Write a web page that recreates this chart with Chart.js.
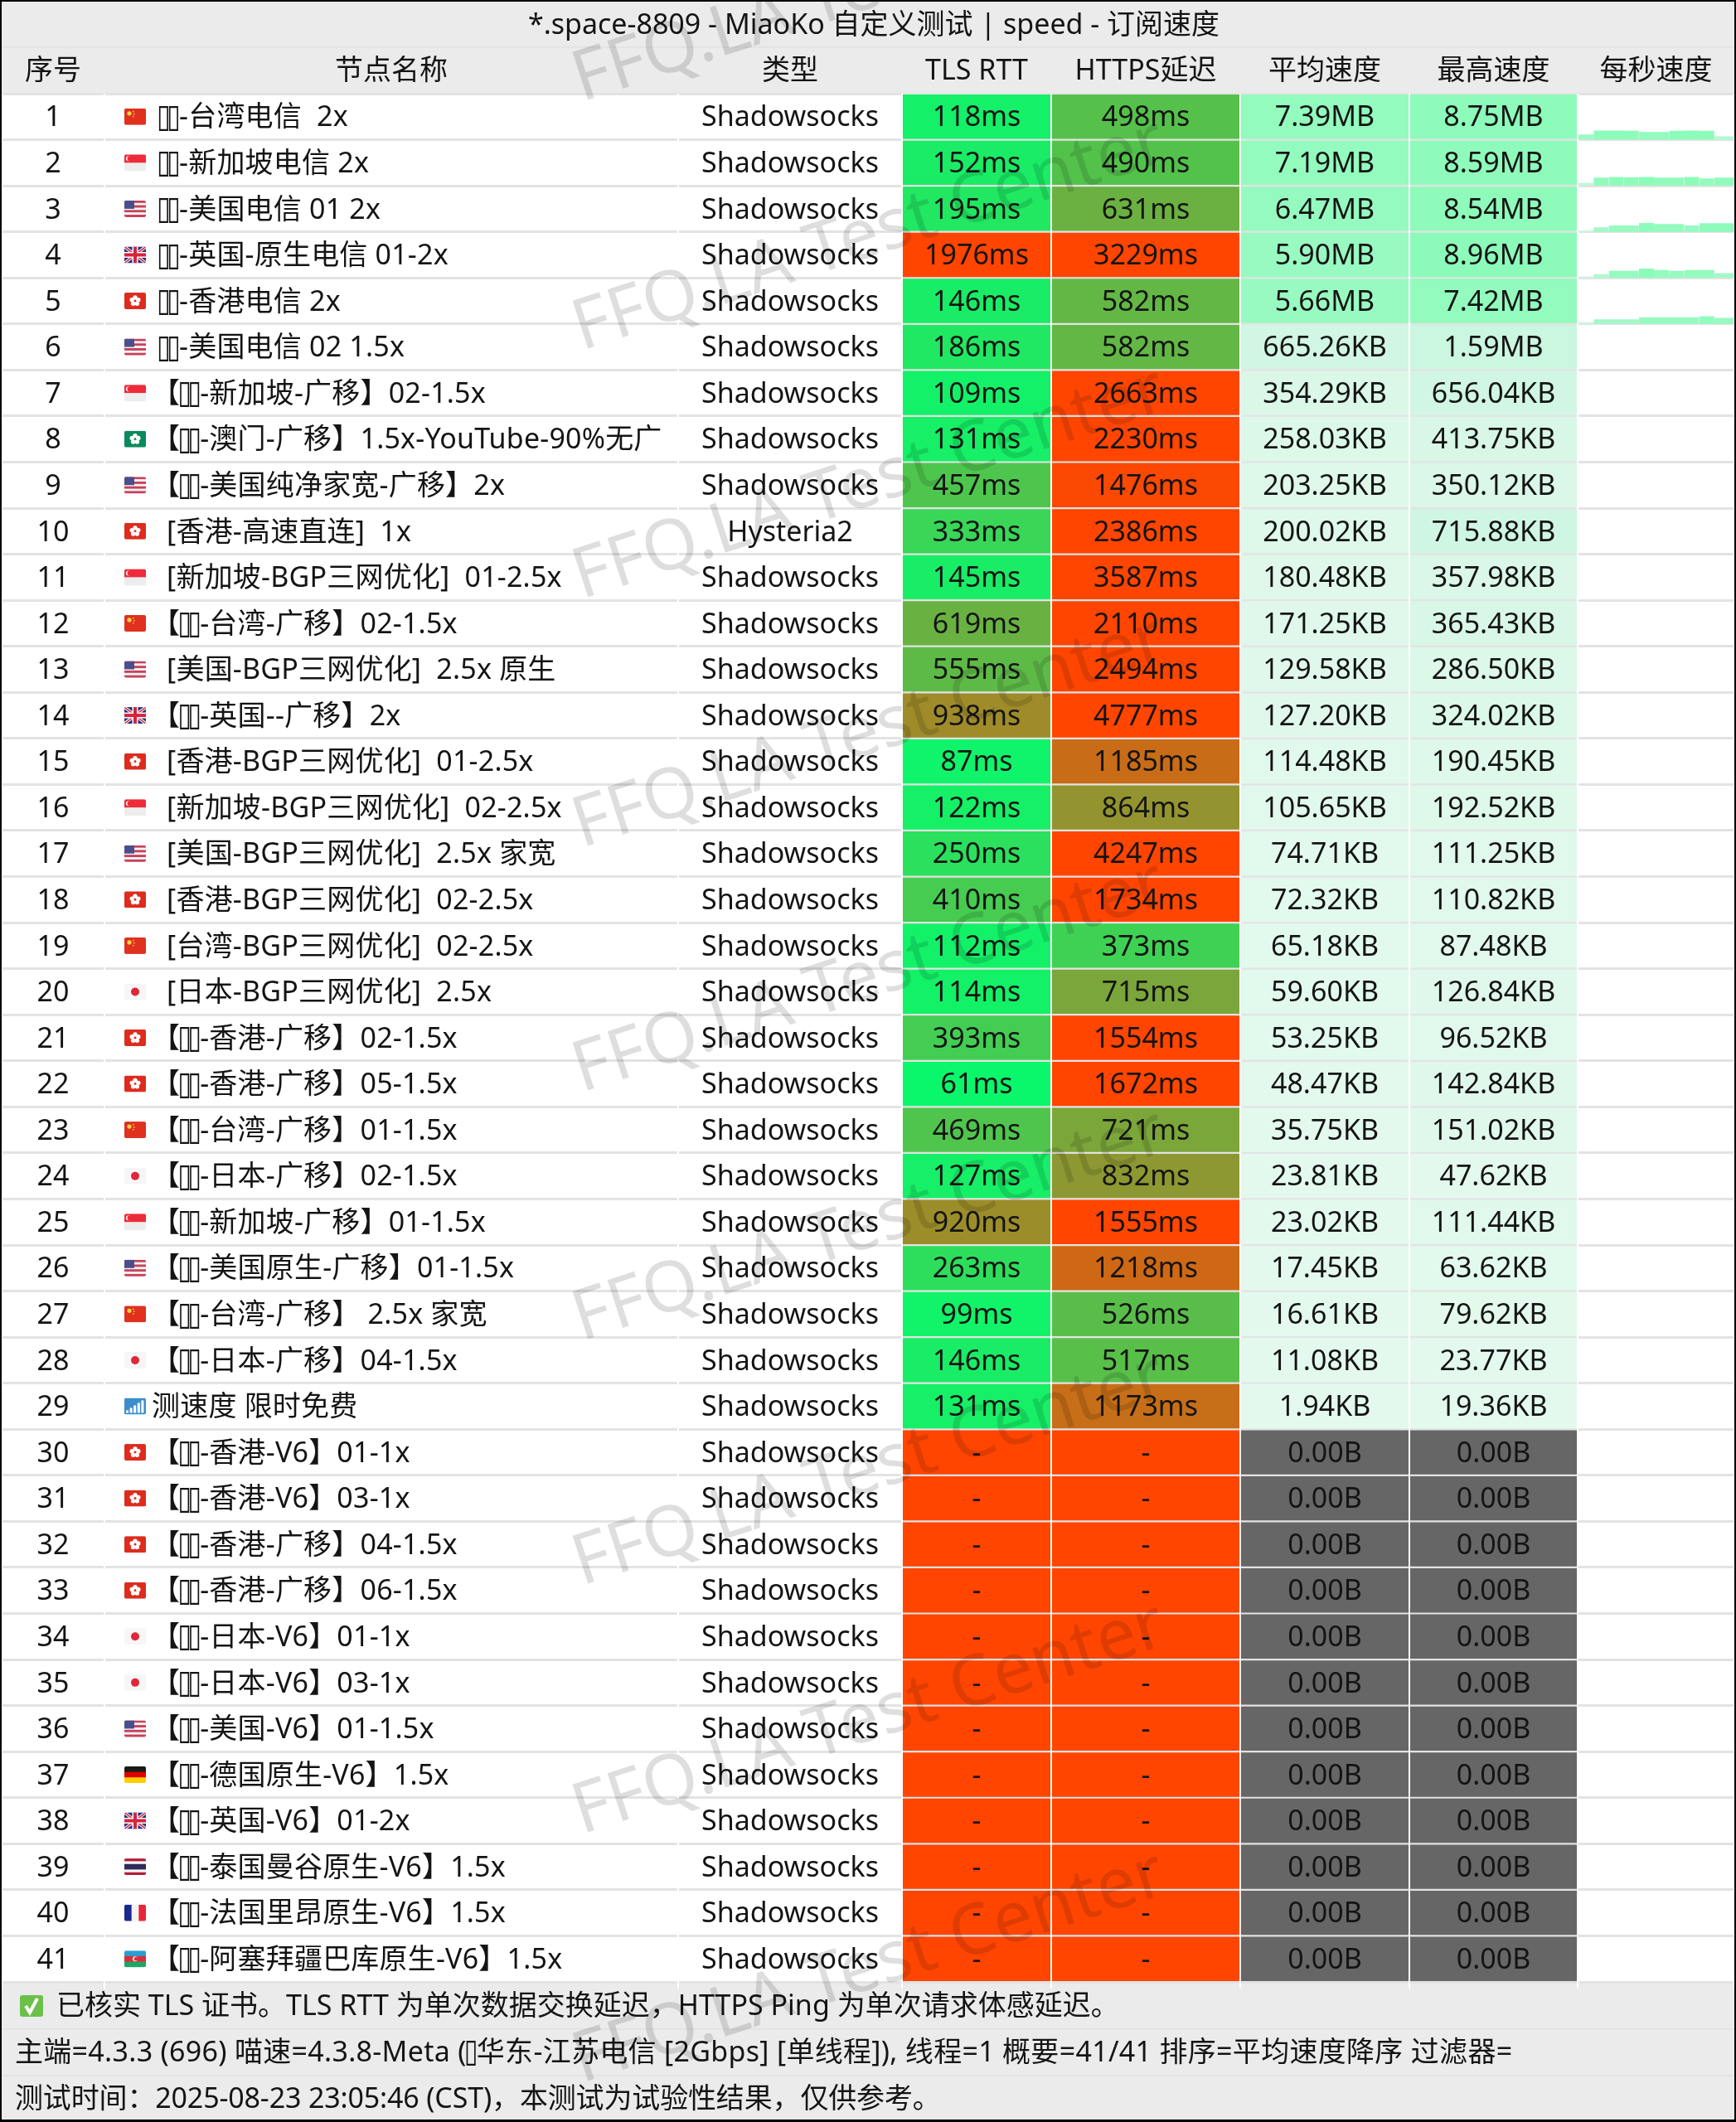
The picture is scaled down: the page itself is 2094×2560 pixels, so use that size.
<!DOCTYPE html>
<html>
<head>
<meta charset="utf-8">
<style>
  html, body { margin: 0; padding: 0; background: #fff; }
  canvas { display: block; }
</style>
<script src="https://cdn.jsdelivr.net/npm/chart.js@4"></script>
</head>
<body>
<canvas id="speedChart" width="2094" height="2560"></canvas>
<script>
const rowIds = ['1','2','3','4','5','6','7','8','9','10','11','12','13','14','15','16','17','18','19','20','21','22','23','24','25','26','27','28','29','30','31','32','33','34','35','36','37','38','39','40','41'];

const flags = ['cn','sg','us','gb','hk','us','sg','mo','us','hk','sg','cn','us','gb','hk','sg','us','hk','cn','jp','hk','hk','cn','jp','sg','us','cn','jp','signal','hk','hk','hk','hk','jp','jp','us','de','gb','th','fr','az'];

const nodeNames = [
  ' ▯▯-台湾电信  2x', ' ▯▯-新加坡电信 2x', ' ▯▯-美国电信 01 2x', ' ▯▯-英国-原生电信 01-2x', ' ▯▯-香港电信 2x',
  ' ▯▯-美国电信 02 1.5x', '【▯▯-新加坡-广移】02-1.5x', '【▯▯-澳门-广移】1.5x-YouTube-90%无广', '【▯▯-美国纯净家宽-广移】2x',
  '  [香港-高速直连]  1x', '  [新加坡-BGP三网优化]  01-2.5x', '【▯▯-台湾-广移】02-1.5x', '  [美国-BGP三网优化]  2.5x 原生',
  '【▯▯-英国--广移】2x', '  [香港-BGP三网优化]  01-2.5x', '  [新加坡-BGP三网优化]  02-2.5x', '  [美国-BGP三网优化]  2.5x 家宽',
  '  [香港-BGP三网优化]  02-2.5x', '  [台湾-BGP三网优化]  02-2.5x', '  [日本-BGP三网优化]  2.5x', '【▯▯-香港-广移】02-1.5x',
  '【▯▯-香港-广移】05-1.5x', '【▯▯-台湾-广移】01-1.5x', '【▯▯-日本-广移】02-1.5x', '【▯▯-新加坡-广移】01-1.5x',
  '【▯▯-美国原生-广移】01-1.5x', '【▯▯-台湾-广移】 2.5x 家宽', '【▯▯-日本-广移】04-1.5x', '测速度 限时免费',
  '【▯▯-香港-V6】01-1x', '【▯▯-香港-V6】03-1x', '【▯▯-香港-广移】04-1.5x', '【▯▯-香港-广移】06-1.5x',
  '【▯▯-日本-V6】01-1x', '【▯▯-日本-V6】03-1x', '【▯▯-美国-V6】01-1.5x', '【▯▯-德国原生-V6】1.5x', '【▯▯-英国-V6】01-2x',
  '【▯▯-泰国曼谷原生-V6】1.5x', '【▯▯-法国里昂原生-V6】1.5x', '【▯▯-阿塞拜疆巴库原生-V6】1.5x'
];

const nodeTypes = ['Shadowsocks','Shadowsocks','Shadowsocks','Shadowsocks','Shadowsocks','Shadowsocks','Shadowsocks','Shadowsocks','Shadowsocks','Hysteria2','Shadowsocks','Shadowsocks','Shadowsocks','Shadowsocks','Shadowsocks','Shadowsocks','Shadowsocks','Shadowsocks','Shadowsocks','Shadowsocks','Shadowsocks','Shadowsocks','Shadowsocks','Shadowsocks','Shadowsocks','Shadowsocks','Shadowsocks','Shadowsocks','Shadowsocks','Shadowsocks','Shadowsocks','Shadowsocks','Shadowsocks','Shadowsocks','Shadowsocks','Shadowsocks','Shadowsocks','Shadowsocks','Shadowsocks','Shadowsocks','Shadowsocks'];

const tlsRtt = [118,152,195,1976,146,186,109,131,457,333,145,619,555,938,87,122,250,410,112,114,393,61,469,127,920,263,99,146,131,null,null,null,null,null,null,null,null,null,null,null,null];
const httpsDelay = [498,490,631,3229,582,582,2663,2230,1476,2386,3587,2110,2494,4777,1185,864,4247,1734,373,715,1554,1672,721,832,1555,1218,526,517,1173,null,null,null,null,null,null,null,null,null,null,null,null];

const avgSpeed = ['7.39MB','7.19MB','6.47MB','5.90MB','5.66MB','665.26KB','354.29KB','258.03KB','203.25KB','200.02KB','180.48KB','171.25KB','129.58KB','127.20KB','114.48KB','105.65KB','74.71KB','72.32KB','65.18KB','59.60KB','53.25KB','48.47KB','35.75KB','23.81KB','23.02KB','17.45KB','16.61KB','11.08KB','1.94KB','0.00B','0.00B','0.00B','0.00B','0.00B','0.00B','0.00B','0.00B','0.00B','0.00B','0.00B','0.00B'];
const maxSpeed = ['8.75MB','8.59MB','8.54MB','8.96MB','7.42MB','1.59MB','656.04KB','413.75KB','350.12KB','715.88KB','357.98KB','365.43KB','286.50KB','324.02KB','190.45KB','192.52KB','111.25KB','110.82KB','87.48KB','126.84KB','96.52KB','142.84KB','151.02KB','47.62KB','111.44KB','63.62KB','79.62KB','23.77KB','19.36KB','0.00B','0.00B','0.00B','0.00B','0.00B','0.00B','0.00B','0.00B','0.00B','0.00B','0.00B','0.00B'];

// per second speed in MB, only the first five rows have a visible curve
const perSecond = [
  [5.0,8.75,8.75,8.7,7.5,7.5,8.7,8.75,8.7,3.3,3.3],
  [2.6,7.8,8.59,8.2,8.59,7.8,7.8,8.59,7.0,7.8,7.8],
  [1.4,4.4,6.1,6.1,8.54,7.5,7.5,6.1,8.4,8.4,8.4],
  [1.3,3.5,6.7,6.7,8.96,7.5,6.7,7.5,7.5,4.5,4.5],
  [1.6,4.5,4.5,4.5,6.4,6.4,6.4,6.4,7.42,5.8,5.8]
];

const headers = ['序号','节点名称','类型','TLS RTT','HTTPS延迟','平均速度','最高速度','每秒速度'];
const titleText = '*.space-8809 - MiaoKo 自定义测试 | speed - 订阅速度';
const footerLines = [
  '已核实 TLS 证书。TLS RTT 为单次数据交换延迟，HTTPS Ping 为单次请求体感延迟。',
  '主端=4.3.3 (696) 喵速=4.3.8-Meta (▯华东-江苏电信 [2Gbps] [单线程]), 线程=1 概要=41/41 排序=平均速度降序 过滤器=',
  '测试时间：2025-08-23 23:05:46 (CST)，本测试为试验性结果，仅供参考。'
];
const watermark = 'FFQ.LA Test Center';

// layout of the picture
const colEdges = [2, 126, 818, 1088, 1268, 1496, 1700, 1903, 2092];
const tableTop = 113, tableBottom = 2391;
const rowH = (tableBottom - tableTop) / rowIds.length;
const sparkLeft = 1904, sparkStep = 18.2, sparkPxPerMB = 1.25;

const font = '34px "Noto Sans", "Noto Sans CJK SC", sans-serif';
const ink = '#141414';

function mix(a, b, t) {
  return a.map((v, i) => Math.round(v + (b[i] - v) * t));
}
function rgb(c) { return 'rgb(' + c.join(',') + ')'; }

function delayColor(ms) {
  if (ms === null) return '#ff4500';
  return rgb(mix([0, 255, 112], [255, 69, 0], Math.min(ms / 1500, 1)));
}

function toMB(text) {
  const n = parseFloat(text);
  if (text.endsWith('MB')) return n;
  if (text.endsWith('KB')) return n / 1024;
  return 0;
}

const speedStops = [[0,[228,249,238]],[0.2,[222,248,234]],[0.7,[207,246,226]],[1.6,[203,246,224]],[5,[155,250,195]],[9,[140,251,185]]];
function speedColor(mb) {
  for (let i = 1; i < speedStops.length; i++) {
    if (mb <= speedStops[i][0]) {
      const [a, ca] = speedStops[i - 1], [b, cb] = speedStops[i];
      return rgb(mix(ca, cb, (mb - a) / (b - a)));
    }
  }
  return rgb(speedStops[speedStops.length - 1][1]);
}
function speedCell(text) {
  return text === '0.00B' ? '#666666' : speedColor(toMB(text));
}

// the missing-glyph boxes are narrower than the real glyph, so step them by hand
function drawText(ctx, text, x, y, spacing) {
  ctx.letterSpacing = (spacing || 0) + 'px';
  const parts = text.split('▯');
  parts.forEach((part, i) => {
    ctx.font = font;
    ctx.fillText(part, x, y);
    x += ctx.measureText(part).width;
    if (i < parts.length - 1) {
      ctx.save();
      ctx.translate(x - 3, y);
      ctx.scale(1, 1.3);
      ctx.font = '30px "DejaVu Sans"';
      ctx.fillText('▯', 0, 0);
      ctx.restore();
      x += 12;
    }
  });
  ctx.letterSpacing = '0px';
}

function stripes(ctx, x, y, w, h, colors) {
  const sh = h / colors.length;
  colors.forEach((c, i) => { ctx.fillStyle = c; ctx.fillRect(x, y + i * sh, w, sh + 0.5); });
}

function drawFlag(ctx, code, cx, cy) {
  const w = 26, h = 20, x = cx - w / 2, y = cy - h / 2;
  ctx.save();
  ctx.beginPath();
  ctx.roundRect(x, y, w, h, 2);
  ctx.clip();
  if (code === 'cn') {
    ctx.fillStyle = '#e0301e'; ctx.fillRect(x, y, w, h);
    ctx.fillStyle = '#f7d34a';
    ctx.beginPath(); ctx.arc(x + 6, y + 6, 2.6, 0, 7); ctx.fill();
    ctx.fillRect(x + 10, y + 3, 1.5, 1.5); ctx.fillRect(x + 11, y + 6, 1.5, 1.5); ctx.fillRect(x + 10, y + 9, 1.5, 1.5);
  } else if (code === 'sg') {
    stripes(ctx, x, y, w, h, ['#ee2b3a', '#ededed']);
    ctx.fillStyle = '#fff';
    ctx.beginPath(); ctx.arc(x + 5, y + 5, 3, 0, 7); ctx.fill();
    ctx.fillStyle = '#ee2b3a';
    ctx.beginPath(); ctx.arc(x + 6.5, y + 5, 3, 0, 7); ctx.fill();
  } else if (code === 'us') {
    stripes(ctx, x, y, w, h, ['#c8415a','#f3f3f3','#c8415a','#f3f3f3','#c8415a','#f3f3f3','#c8415a']);
    ctx.fillStyle = '#4a4f8c'; ctx.fillRect(x, y, 12, 10);
  } else if (code === 'gb') {
    ctx.fillStyle = '#27327f'; ctx.fillRect(x, y, w, h);
    ctx.strokeStyle = '#fff'; ctx.lineWidth = 3.5;
    ctx.beginPath(); ctx.moveTo(x, y); ctx.lineTo(x + w, y + h); ctx.moveTo(x + w, y); ctx.lineTo(x, y + h); ctx.stroke();
    ctx.strokeStyle = '#d5243c'; ctx.lineWidth = 1.5;
    ctx.stroke();
    ctx.fillStyle = '#fff'; ctx.fillRect(x + 9.5, y, 7, h); ctx.fillRect(x, y + 6.5, w, 7);
    ctx.fillStyle = '#d5243c'; ctx.fillRect(x + 11, y, 4, h); ctx.fillRect(x, y + 8, w, 4);
  } else if (code === 'hk' || code === 'mo') {
    ctx.fillStyle = code === 'hk' ? '#dd2c1e' : '#0b8a5c'; ctx.fillRect(x, y, w, h);
    ctx.fillStyle = '#fff';
    for (let i = 0; i < 5; i++) {
      const a = i * Math.PI * 2 / 5 - Math.PI / 2;
      ctx.beginPath(); ctx.arc(cx + Math.cos(a) * 4, cy + Math.sin(a) * 4, 2.7, 0, 7); ctx.fill();
    }
  } else if (code === 'jp') {
    ctx.fillStyle = '#f6f6f6'; ctx.fillRect(x, y, w, h);
    ctx.fillStyle = '#e0263a';
    ctx.beginPath(); ctx.arc(cx, cy, 5, 0, 7); ctx.fill();
  } else if (code === 'de') {
    stripes(ctx, x, y, w, h, ['#1a1a1a', '#dd0000', '#ffce00']);
  } else if (code === 'th') {
    stripes(ctx, x, y, w, h, ['#b0203a','#f3f3f3','#2d2a56','#2d2a56','#f3f3f3','#b0203a']);
  } else if (code === 'fr') {
    ctx.fillStyle = '#f3f3f3'; ctx.fillRect(x, y, w, h);
    ctx.fillStyle = '#1a2a8c'; ctx.fillRect(x, y, w / 3, h);
    ctx.fillStyle = '#e8263a'; ctx.fillRect(x + 2 * w / 3, y, w / 3, h);
  } else if (code === 'az') {
    stripes(ctx, x, y, w, h, ['#2b9fd0', '#dd2c3c', '#1fa565']);
    ctx.fillStyle = '#fff';
    ctx.beginPath(); ctx.arc(cx, cy, 3, 0, 7); ctx.fill();
    ctx.fillStyle = '#dd2c3c';
    ctx.beginPath(); ctx.arc(cx + 1, cy, 2.3, 0, 7); ctx.fill();
  } else if (code === 'signal') {
    ctx.fillStyle = '#3c8ecb'; ctx.fillRect(x, y, w, h);
    ctx.fillStyle = '#fff';
    [3, 6, 9, 12, 15].forEach((bh, i) => ctx.fillRect(x + 2 + i * 4.6, cy + 8 - bh, 3, bh));
  }
  ctx.restore();
}

function drawCheck(ctx) {
  ctx.save();
  ctx.fillStyle = '#6cc04a';
  ctx.beginPath(); ctx.roundRect(24, 2407, 28, 26, 3); ctx.fill();
  ctx.strokeStyle = '#fff'; ctx.lineWidth = 4;
  ctx.beginPath(); ctx.moveTo(31, 2420); ctx.lineTo(36, 2428); ctx.lineTo(45, 2411); ctx.stroke();
  ctx.restore();
}

const tablePlugin = {
  id: 'tablePlugin',
  beforeDraw(chart) {
    const ctx = chart.ctx;
    ctx.save();
    ctx.fillStyle = '#ffffff'; ctx.fillRect(0, 0, 2094, 2560);
    ctx.fillStyle = '#ebebeb';
    ctx.fillRect(0, 0, 2094, tableTop);
    ctx.fillRect(0, tableBottom, 2094, 2560 - tableBottom);
    ctx.fillStyle = '#e3e3e3';
    ctx.fillRect(0, 56, 2094, 2);
    ctx.fillRect(0, 2447, 2094, 2);
    ctx.fillRect(0, 2503, 2094, 2);
    ctx.restore();
  },
  afterDraw(chart) {
    const ctx = chart.ctx, yScale = chart.scales.y, xScale = chart.scales.x;
    const center = i => xScale.getPixelForValue((colEdges[i] + colEdges[i + 1]) / 2);
    ctx.save();
    ctx.fillStyle = ink;
    ctx.textBaseline = 'middle';
    ctx.font = font;

    ctx.textAlign = 'center';
    ctx.fillText(titleText, 1054, 31);
    headers.forEach((h, i) => ctx.fillText(h, center(i), 86));

    rowIds.forEach((id, r) => {
      const y = yScale.getPixelForValue(r);
      const ty = y + 2;
      ctx.textAlign = 'center';
      ctx.font = font;
      ctx.fillText(id, center(0), ty);
      ctx.fillText(nodeTypes[r], center(2), ty);
      ctx.fillText(tlsRtt[r] === null ? '-' : tlsRtt[r] + 'ms', center(3), ty);
      ctx.fillText(httpsDelay[r] === null ? '-' : httpsDelay[r] + 'ms', center(4), ty);
      ctx.fillText(avgSpeed[r], center(5), ty);
      ctx.fillText(maxSpeed[r], center(6), ty);
      ctx.textAlign = 'left';
      drawText(ctx, nodeNames[r], 183, ty, 0.2);
      drawFlag(ctx, flags[r], 163, y);
    });

    ctx.textAlign = 'left';
    drawCheck(ctx);
    drawText(ctx, footerLines[0], 68, 2421);
    drawText(ctx, footerLines[1], 18, 2477, 0.3);
    drawText(ctx, footerLines[2], 18, 2533, -0.15);

    // watermark sits over everything
    ctx.font = '85px "Noto Sans", sans-serif';
    ctx.fillStyle = 'rgba(0,0,0,0.13)';
    [100, 400, 700, 1000, 1295, 1595, 1890, 2190, 2490].forEach(wy => {
      ctx.save();
      ctx.translate(694, wy);
      ctx.rotate(-18 * Math.PI / 180);
      ctx.fillText(watermark, 0, 0);
      ctx.restore();
    });

    // black photo frame
    ctx.fillStyle = '#000';
    ctx.fillRect(0, 0, 2094, 2);
    ctx.fillRect(0, 2557, 2094, 3);
    ctx.fillRect(0, 0, 2, 2560);
    ctx.fillRect(2092, 0, 2, 2560);
    ctx.restore();
  }
};

const cellColumn = (label, col, colors) => ({
  type: 'bar',
  label,
  data: rowIds.map(() => [colEdges[col], colEdges[col + 1]]),
  backgroundColor: colors,
  grouped: false,
  barPercentage: 0.96,
  categoryPercentage: 1,
  xAxisID: 'x',
  yAxisID: 'y'
});

const sparkDatasets = perSecond.map((values, r) => ({
  type: 'line',
  indexAxis: 'x',
  label: 'spark' + r,
  data: values.concat(values[values.length - 1]).map((v, s) => ({ x: s, y: v })),
  xAxisID: 'xSpark',
  yAxisID: 'ySpark' + r,
  stepped: true,
  borderWidth: 0,
  pointRadius: 0,
  fill: { value: 0 },
  backgroundColor: speedColor(9),
  segment: { backgroundColor: c => speedColor(c.p0.parsed.y) }
}));

const scales = {
  x: {
    type: 'linear', min: 0, max: 2094,
    grid: { color: '#ffffff', lineWidth: 2, z: 1 },
    border: { display: false },
    ticks: { display: false },
    afterBuildTicks: s => { s.ticks = colEdges.map(value => ({ value })); },
    afterFit: s => { s.height = 0; }
  },
  y: {
    type: 'category',
    labels: rowIds,
    grid: { color: '#e3e3e3', lineWidth: 3, offset: true, drawTicks: false },
    border: { display: false },
    ticks: { display: false },
    afterFit: s => { s.width = 0; }
  },
  xSpark: { type: 'linear', axis: 'x', display: false, min: -sparkLeft / sparkStep, max: (2094 - sparkLeft) / sparkStep }
};
perSecond.forEach((v, r) => {
  // each row gets its own MB axis whose zero sits on that row's bottom line
  const base = (rowIds.length - r - 1) * rowH;
  scales['ySpark' + r] = {
    type: 'linear', axis: 'y', display: false,
    min: -base / sparkPxPerMB,
    max: (tableBottom - tableTop - base) / sparkPxPerMB
  };
});

new Chart(document.getElementById('speedChart'), {
  data: {
    labels: rowIds,
    datasets: [
      cellColumn('TLS RTT', 3, tlsRtt.map(delayColor)),
      cellColumn('HTTPS延迟', 4, httpsDelay.map(delayColor)),
      cellColumn('平均速度', 5, avgSpeed.map(speedCell)),
      cellColumn('最高速度', 6, maxSpeed.map(speedCell)),
      ...sparkDatasets
    ]
  },
  options: {
    indexAxis: 'y',
    responsive: false,
    maintainAspectRatio: false,
    animation: false,
    devicePixelRatio: 1,
    layout: { padding: { top: tableTop, bottom: 2560 - tableBottom, left: 0, right: 0 } },
    plugins: { legend: { display: false }, tooltip: { enabled: false }, title: { display: false } },
    scales
  },
  plugins: [tablePlugin]
});
</script>
</body>
</html>
